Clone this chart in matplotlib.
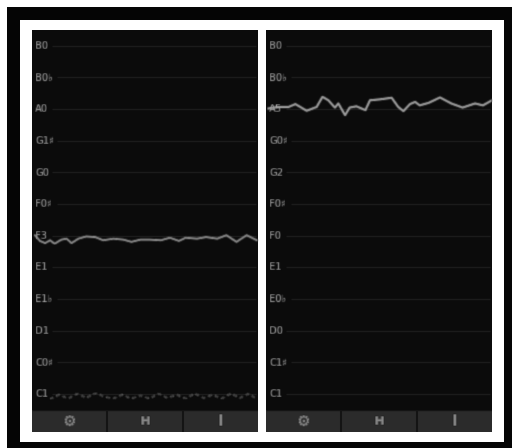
""" pitch tracker screenshot, two panels side by side """

import matplotlib

matplotlib.use("Agg")
import matplotlib.pyplot as plt
import numpy as np
from matplotlib.patches import Rectangle

# note names from bottom row to top row
left_notes = ["C1", "C0♯", "D1", "E1♭", "E1", "F3", "F0♯", "G0", "G1♯", "A0", "B0♭", "B0"]
right_notes = ["C1", "C1♯", "D0", "E0♭", "E1", "F0", "F0♯", "G2", "G0♯", "A5", "B0♭", "B0"]

# traces, time in % of panel width, pitch in rows
left_time = [1.3, 3.5, 5.8, 8, 10, 13, 15.3, 17.5, 20.5, 24, 28, 31.5, 36, 40.4, 44, 48, 52, 57,
             61, 65, 68, 73, 77, 82, 86, 90.5, 95, 99.5]
left_pitch = [5.02, 4.84, 4.77, 4.86, 4.75, 4.88, 4.91, 4.77, 4.91, 4.98, 4.96, 4.86, 4.91, 4.88,
              4.81, 4.88, 4.88, 4.86, 4.94, 4.84, 4.94, 4.91, 4.96, 4.91, 5.02, 4.81, 5.02, 4.86]
right_time = [1, 5.5, 10, 13, 18, 22.4, 25, 27.6, 30.5, 32, 35, 37, 40, 44, 46, 50.4, 55.6, 58.5,
              60.8, 63.7, 66, 68, 72, 77, 82, 87, 92.5, 96, 100]
right_pitch = [9.02, 9.07, 9.07, 9.16, 8.95, 9.07, 9.39, 9.28, 9.05, 9.18, 8.81, 9.05, 9.09, 8.97,
               9.28, 9.31, 9.36, 9.07, 8.94, 9.16, 9.23, 9.12, 9.2, 9.37, 9.18, 9.05, 9.18, 9.12, 9.28]
# faint dashes along the bottom row of the left panel
low_time = [8, 12, 16, 20, 24, 28, 32, 36, 40, 44, 48, 52, 56, 60, 64, 68, 72, 76, 80, 84, 88, 92, 96, 99]
low_pitch = [-0.16, -0.02, -0.14, 0.02, -0.12, 0.04, -0.08, -0.14, -0.02, -0.14, -0.04, -0.14, 0.02, -0.12,
             -0.02, -0.14, 0.02, -0.12, -0.02, -0.14, 0.02, -0.12, 0.02, -0.14]

toolbar_icons = ["⚙", "H", "I"]


def blur(img, dpi, sigma=1.0):
    """gaussian blur for agg_filter, the reference is a soft upscale"""
    pad = 4
    xs = np.arange(-pad, pad + 1)
    kernel = np.exp(-(xs**2) / (2 * sigma**2))
    kernel = kernel / kernel.sum()
    out = np.pad(img, ((pad, pad), (pad, pad), (0, 0)))
    for axis in (0, 1):
        out = np.apply_along_axis(lambda v: np.convolve(v, kernel, mode="same"), axis, out)
    return out, -pad, -pad


def px_axes(fig, x0, y0, x1, y1):
    """axes from pixel box with y counted from the top"""
    return fig.add_axes([x0 / 512, 1 - y1 / 448, (x1 - x0) / 512, (y1 - y0) / 448])


def draw_panel(fig, x0, notes, traces):
    ax = px_axes(fig, x0, 30, x0 + 226, 410)
    ax.set_facecolor("#0b0b0b")
    ax.set_xlim(0, 100)
    ax.set_ylim(-0.5, 11.5)
    ax.set_xticks([])
    ax.set_yticks([])
    for spine in ax.spines.values():
        spine.set_visible(False)

    for i, note in enumerate(notes):
        start = 11 if len(note) > 2 else 9
        ax.hlines(i, start, 99, color="#1b1b1b", lw=1, zorder=1)
        txt = ax.text(1.5, i, note, color="#a8a8a8", fontsize=7.2, va="center", ha="left", zorder=2)
        txt.set_agg_filter(lambda im, dpi: blur(im, dpi, 0.6))

    for t, p, style in traces:
        line, = ax.plot(t, p, zorder=3, **style)
        line.set_agg_filter(lambda im, dpi: blur(im, dpi, 0.6))

    bar = px_axes(fig, x0, 410, x0 + 226, 432)
    bar.set_facecolor("#2b2b2b")
    bar.set_xlim(0, 3)
    bar.set_ylim(0, 1)
    bar.set_xticks([])
    bar.set_yticks([])
    for spine in bar.spines.values():
        spine.set_visible(False)
    bar.vlines([1, 2], 0, 1, color="#141414", lw=1.5)
    bar.hlines(1, 0, 3, color="#141414", lw=1)
    for i, icon in enumerate(toolbar_icons):
        txt = bar.text(i + 0.5, 0.47, icon, color="#8c8c8c", fontsize=11 if i != 1 else 9.5,
                       fontweight="bold", ha="center", va="center")
        txt.set_agg_filter(lambda im, dpi: blur(im, dpi, 0.6))


fig = plt.figure(figsize=(5.12, 4.48), dpi=100, facecolor="white")

back = fig.add_axes([0, 0, 1, 1])
back.set_xlim(0, 512)
back.set_ylim(448, 0)
back.axis("off")
back.add_patch(Rectangle((7, 7), 505, 441, facecolor="#050505", edgecolor="none"))
back.add_patch(Rectangle((20, 20), 484, 422, facecolor="white", edgecolor="none"))

left_style = {"color": "#8f8f8f", "lw": 1.3}
right_style = {"color": "#a0a0a0", "lw": 1.5}
low_style = {"color": "#4a4a4a", "lw": 1.0, "ls": (0, (2.5, 2.5))}
draw_panel(fig, 32, left_notes, [(low_time, low_pitch, low_style), (left_time, left_pitch, left_style)])
draw_panel(fig, 266, right_notes, [(right_time, right_pitch, right_style)])

fig.savefig("out.png", dpi=100)
